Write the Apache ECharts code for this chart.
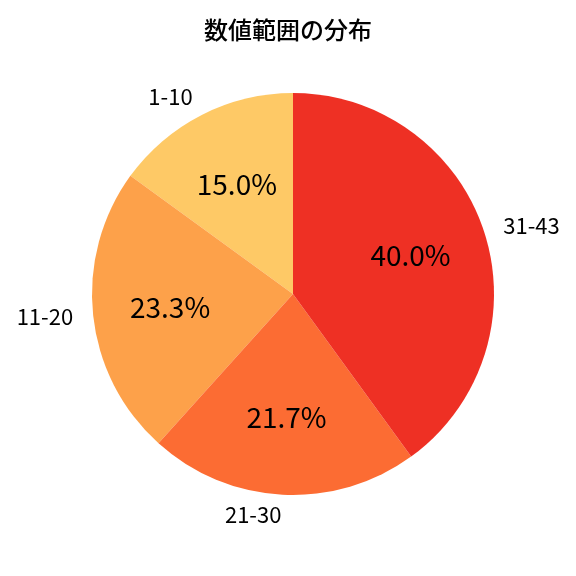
<!DOCTYPE html>
<html>
<head>
<meta charset="utf-8">
<script src="https://cdn.jsdelivr.net/npm/echarts@6/dist/echarts.min.js"></script>
<style>
  html, body { margin: 0; padding: 0; background: #fff; }
  #chart { width: 576px; height: 576px; }
</style>
</head>
<body>
<div id="chart"></div>
<script>
// 範囲ごとの件数
let categories = ["1-10", "11-20", "21-30", "31-43"];
let counts = [9, 14, 13, 24];
let colors = ["#fec966", "#fda14a", "#fc6c33", "#ee3024"];

let total = counts.reduce((a, b) => a + b, 0);
let pieData = categories.map((name, i) => ({ name: name, value: counts[i], itemStyle: { color: colors[i] } }));

let font = '"Noto Sans CJK JP", "Noto Sans", sans-serif';
let R = 201;
let center = [293, 294];

let chart = echarts.init(document.getElementById("chart"));

let option = {
  animation: false,
  title: {
    text: "数値範囲の分布",
    left: "center",
    top: 13,
    textStyle: { fontFamily: font, fontSize: 24, fontWeight: 500, color: "#000" },
  },
  series: [
    {
      // 本体 + 外側のラベル
      type: "pie",
      center: center,
      radius: [0, R],
      startAngle: 90,
      clockwise: false,
      avoidLabelOverlap: false,
      data: pieData,
      label: {
        show: true,
        position: "outside",
        formatter: "{b}",
        fontFamily: font,
        fontSize: 22,
        color: "#000",
        distanceToLabelLine: 0,
      },
      labelLine: { show: false, length: R * 0.1, length2: 0 },
      emphasis: { disabled: true },
    },
    {
      // パーセント表示用（透明）
      type: "pie",
      center: center,
      radius: [R * 0.2, R],
      startAngle: 90,
      clockwise: false,
      silent: true,
      data: pieData.map((d) => ({ name: d.name, value: d.value })),
      itemStyle: { color: "rgba(0,0,0,0)" },
      label: {
        show: true,
        position: "inside",
        formatter: (p) => ((p.value / total) * 100).toFixed(1) + "%",
        fontFamily: font,
        fontSize: 28,
        color: "#000",
      },
      labelLine: { show: false },
    },
  ],
};
chart.setOption(option);
</script>
</body>
</html>
